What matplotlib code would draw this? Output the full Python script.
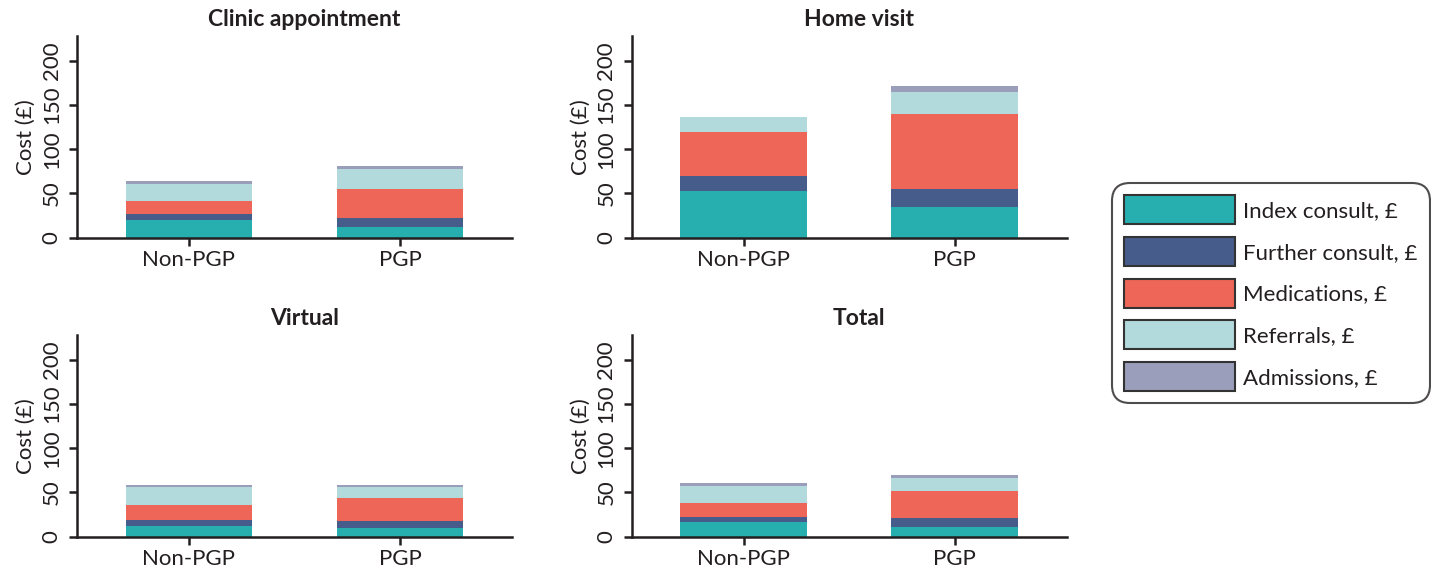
import matplotlib
matplotlib.use("Agg")
import matplotlib.pyplot as plt
from matplotlib.patches import Patch
import numpy as np

plt.rcParams['font.family'] = ['Lato', 'DejaVu Sans']

groups = ["Non-PGP", "PGP"]
components = ["Index consult, £", "Further consult, £", "Medications, £", "Referrals, £", "Admissions, £"]
colors = ["#27AEAF", "#465D8B", "#EE6657", "#B2D9DB", "#9A9EBA"]

panel_titles = ["Clinic appointment", "Home visit", "Virtual", "Total"]

# values per panel: rows = components, cols = [Non-PGP, PGP]
clinic_index = [20.0, 12.0]
clinic_further = [6.7, 10.2]
clinic_medications = [14.7, 32.8]
clinic_referrals = [19.2, 22.6]
clinic_admissions = [3.4, 3.4]

home_index = [52.7, 34.7]
home_further = [17.0, 20.3]
home_medications = [49.7, 84.7]
home_referrals = [16.9, 24.9]
home_admissions = [0.0, 6.8]

virtual_index = [12.0, 9.8]
virtual_further = [6.8, 7.9]
virtual_medications = [16.9, 25.9]
virtual_referrals = [20.3, 12.4]
virtual_admissions = [2.3, 2.3]

total_index = [16.5, 10.9]
total_further = [5.7, 10.1]
total_medications = [15.8, 30.5]
total_referrals = [19.1, 14.7]
total_admissions = [3.4, 3.3]

panels = [
    [clinic_index, clinic_further, clinic_medications, clinic_referrals, clinic_admissions],
    [home_index, home_further, home_medications, home_referrals, home_admissions],
    [virtual_index, virtual_further, virtual_medications, virtual_referrals, virtual_admissions],
    [total_index, total_further, total_medications, total_referrals, total_admissions],
]

W, H = 1431, 579
fig = plt.figure(figsize=(W / 100, H / 100), dpi=100)

positions = [
    (77, 237.7), (631.7, 237.7),
    (77, 536.7), (631.7, 536.7),
]
ax_w, ax_h = 435, 201.7
TXT = "#231F20"

x = np.arange(len(groups))
for (px, py), title, data in zip(positions, panel_titles, panels):
    ax = fig.add_axes([px / W, (H - py) / H, ax_w / W, ax_h / H])
    bottom = np.zeros(len(groups))
    for vals, c in zip(data, colors):
        ax.bar(x, vals, width=0.6, bottom=bottom, color=c, edgecolor='none')
        bottom += np.array(vals)
    ax.set_xlim(-0.53, 1.53)
    ax.set_ylim(0, 228)
    ax.set_yticks([0, 50, 100, 150, 200])
    ax.set_xticks(x)
    ax.set_xticklabels(groups, fontsize=16, color=TXT)
    for lbl in ax.get_yticklabels():
        lbl.set_rotation(90)
        lbl.set_va('center')
        lbl.set_fontsize(16)
        lbl.set_color(TXT)
    ax.set_ylabel("Cost (£)", fontsize=16, color=TXT, labelpad=4)
    ax.set_title(title, fontsize=16.5, fontweight='bold', color=TXT, pad=7, x=0.523)
    for s in ['top', 'right']:
        ax.spines[s].set_visible(False)
    for s in ['left', 'bottom']:
        ax.spines[s].set_linewidth(1.8)
        ax.spines[s].set_color(TXT)
    ax.tick_params(axis='x', width=1.8, length=6, color=TXT, pad=3)
    ax.tick_params(axis='y', width=1.8, length=6, color=TXT, pad=5)

handles = [Patch(facecolor=c, edgecolor="#333333", linewidth=1.5, label=l) for c, l in zip(colors, components)]
leg = fig.legend(handles=handles, loc='upper left', bbox_to_anchor=(1112 / W, 1 - 183 / H),
                 fontsize=16, frameon=True, handlelength=5.0, handleheight=1.63,
                 labelspacing=0.57, handletextpad=0.35, borderpad=0.55, fancybox=True,
                 borderaxespad=0)
frame = leg.get_frame()
frame.set_edgecolor(TXT)
frame.set_linewidth(1.5)
frame.set_boxstyle("round,pad=0,rounding_size=0.8")
for t in leg.get_texts():
    t.set_color(TXT)

fig.savefig("out.png", dpi=100)
